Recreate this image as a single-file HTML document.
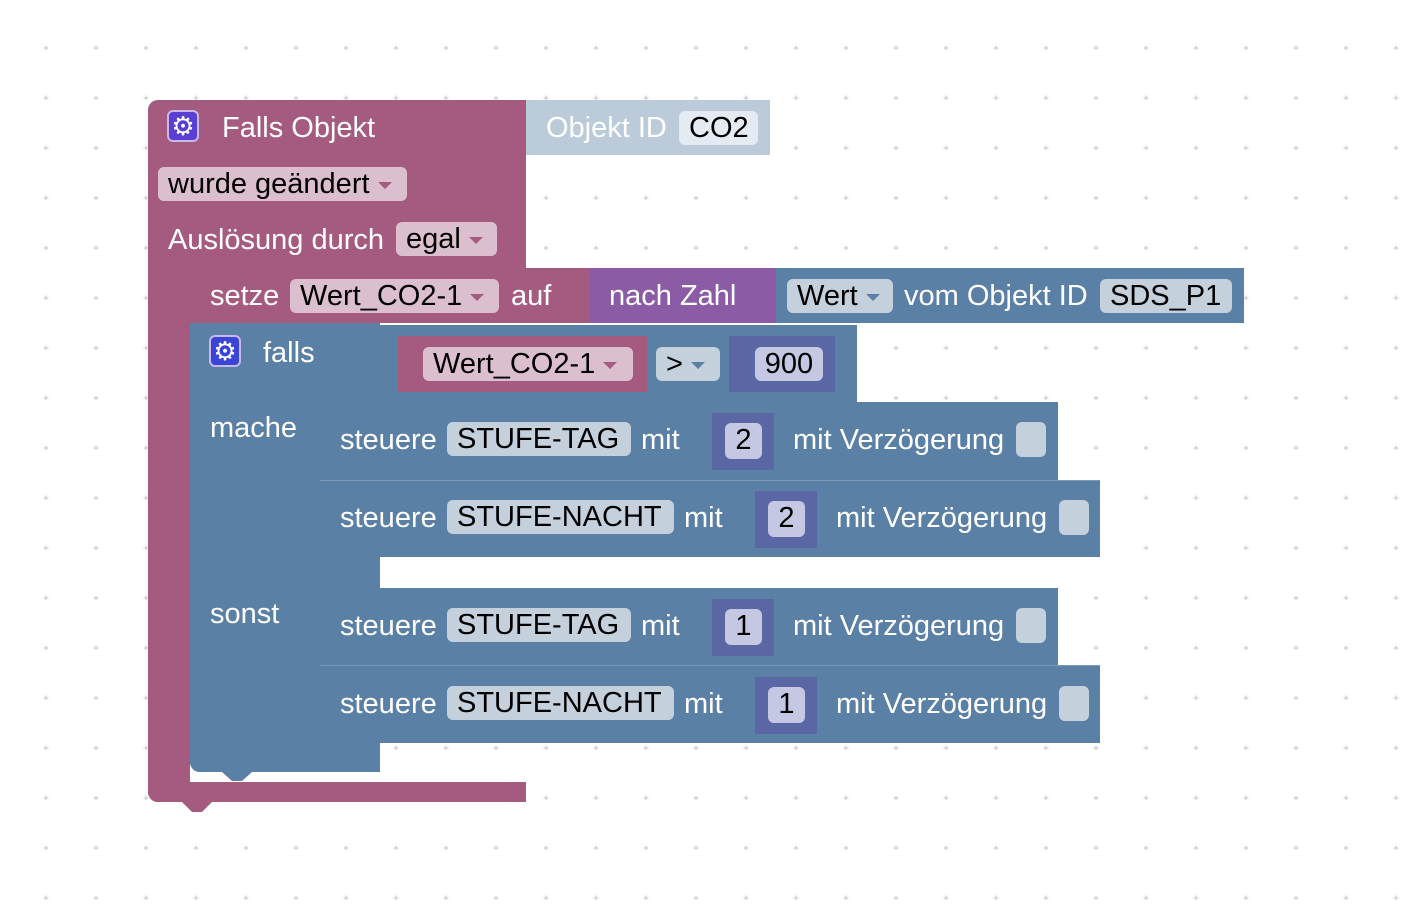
<!DOCTYPE html>
<html><head><meta charset="utf-8"><style>
html,body{margin:0;padding:0;width:1404px;height:924px;overflow:hidden;background:#fff}
body{position:relative;font-family:"Liberation Sans",Arial,sans-serif}
.b{position:absolute}
.pk{background:#a55b80}
.bl{background:#5b80a5}
.pu{background:#8b5ba5}
.nm{background:#5b67a5}
.t{position:absolute;color:#fff;font-size:29px;line-height:34px;white-space:nowrap}
.f{position:absolute;font-size:29px;line-height:34px;height:34px;color:#000;border-radius:6px;white-space:nowrap;box-sizing:border-box;padding-left:10px;overflow:hidden}
.fp{background:#dcbfcf}
.fb{background:#c5d0dd}
.fn{background:#c4c8e2;text-align:center;padding:0}
.ar{display:inline-block;width:0;height:0;border-left:7px solid transparent;border-right:7px solid transparent;border-top:7px solid;margin-left:8px;vertical-align:middle}
.gear{position:absolute;width:32px;height:32px;border-radius:6px;border:2px solid #c9b8e8;box-sizing:border-box;color:#fff;font-size:26px;line-height:28px;text-align:center}
.cb{position:absolute;width:30px;height:35px;border-radius:6px;background:#c5d0dd}
</style></head><body>
<svg class="b" style="left:0;top:0" width="1404" height="924">
<defs><pattern id="g" x="0" y="0" width="50" height="50" patternUnits="userSpaceOnUse">
<path d="M46 45.5v5M43.5 48h5" stroke="#cfcfcf" stroke-width="1.3"/></pattern></defs>
<rect width="1404" height="924" fill="url(#g)"/>
</svg>

<div class="b pk" style="left:148px;top:100px;width:378px;height:168px;border-top-left-radius:10px"></div>
<div class="b pk" style="left:148px;top:268px;width:42px;height:534px;border-bottom-left-radius:10px"></div>
<div class="b pk" style="left:148px;top:782px;width:378px;height:20px;border-bottom-left-radius:10px"></div>
<svg class="b" style="left:0;top:0" width="1404" height="924">
<path d="M182 802 L192 812 L202 812 L212 802 Z" fill="#a55b80"/>
</svg>
<div class="gear" style="left:167px;top:110px;background:#5a3fd4">⚙</div>
<div class="t" style="left:222px;top:111px">Falls Objekt</div>
<div class="f fp" style="left:158px;top:167px;width:249px">wurde geändert<span class="ar" style="color:#a55b80"></span></div>
<div class="t" style="left:168px;top:223px">Auslösung durch</div>
<div class="f fp" style="left:396px;top:222px;width:101px">egal<span class="ar" style="color:#a55b80"></span></div>

<div class="b" style="left:526px;top:100px;width:244px;height:55px;background:#bccbd9"></div>
<div class="t" style="left:546px;top:111px;color:#fff">Objekt ID</div>
<div class="f" style="left:679px;top:111px;width:79px;background:#e5ebf2">CO2</div>

<div class="b pk" style="left:190px;top:268px;width:400px;height:55px"></div>
<div class="t" style="left:210px;top:279px">setze</div>
<div class="f fp" style="left:290px;top:279px;width:209px">Wert_CO2-1<span class="ar" style="color:#a55b80"></span></div>
<div class="t" style="left:511px;top:279px">auf</div>
<div class="b pu" style="left:590px;top:268px;width:186px;height:55px"></div>
<div class="t" style="left:609px;top:279px">nach Zahl</div>
<div class="b bl" style="left:776px;top:268px;width:468px;height:55px"></div>
<div class="f fb" style="left:787px;top:279px;width:106px">Wert<span class="ar" style="color:#5b80a5"></span></div>
<div class="t" style="left:904px;top:279px">vom Objekt ID</div>
<div class="f fb" style="left:1100px;top:279px;width:132px">SDS_P1</div>

<div class="b bl" style="left:190px;top:323px;width:190px;height:79px"></div>
<div class="b bl" style="left:380px;top:325px;width:477px;height:77px"></div>
<div class="b bl" style="left:190px;top:402px;width:130px;height:370px;border-bottom-left-radius:10px"></div>
<div class="b bl" style="left:190px;top:557px;width:190px;height:31px"></div>
<div class="b bl" style="left:190px;top:743px;width:190px;height:29px;border-bottom-left-radius:10px"></div>
<svg class="b" style="left:0;top:0" width="1404" height="924">
<path d="M222 772 L232 781 L242 781 L252 772 Z" fill="#5b80a5"/>
</svg>
<div class="gear" style="left:209px;top:335px;background:#3a45d8">⚙</div>
<div class="t" style="left:263px;top:336px">falls</div>
<div class="b pk" style="left:398px;top:336px;width:249px;height:56px"></div>
<div class="f fp" style="left:423px;top:347px;width:210px">Wert_CO2-1<span class="ar" style="color:#a55b80"></span></div>
<div class="f fb" style="left:656px;top:347px;width:64px">&gt;<span class="ar" style="color:#5b80a5"></span></div>
<div class="b nm" style="left:729px;top:336px;width:106px;height:56px"></div>
<div class="f fn" style="left:755px;top:347px;width:68px">900</div>
<div class="t" style="left:210px;top:411px">mache</div>
<div class="t" style="left:210px;top:597px">sonst</div>

<div class="b bl" style="left:320px;top:402px;width:738px;height:78px"></div>
<div class="b bl" style="left:320px;top:480px;width:780px;height:77px;border-top:1px solid #7d9bb9;box-sizing:border-box"></div>
<div class="b bl" style="left:320px;top:588px;width:738px;height:77px"></div>
<div class="b bl" style="left:320px;top:665px;width:780px;height:78px;border-top:1px solid #7d9bb9;box-sizing:border-box"></div>

<div class="t" style="left:340px;top:423px">steuere</div>
<div class="f fb" style="left:447px;top:422px;width:184px">STUFE-TAG</div>
<div class="t" style="left:641px;top:423px">mit</div>
<div class="b nm" style="left:712px;top:413px;width:62px;height:57px"></div>
<div class="f fn" style="left:725px;top:423px;width:37px;height:36px">2</div>
<div class="t" style="left:793px;top:423px">mit Verzögerung</div>
<div class="cb" style="left:1016px;top:422px"></div>

<div class="t" style="left:340px;top:501px">steuere</div>
<div class="f fb" style="left:447px;top:500px;width:227px">STUFE-NACHT</div>
<div class="t" style="left:684px;top:501px">mit</div>
<div class="b nm" style="left:755px;top:491px;width:62px;height:57px"></div>
<div class="f fn" style="left:768px;top:501px;width:37px;height:36px">2</div>
<div class="t" style="left:836px;top:501px">mit Verzögerung</div>
<div class="cb" style="left:1059px;top:500px"></div>

<div class="t" style="left:340px;top:609px">steuere</div>
<div class="f fb" style="left:447px;top:608px;width:184px">STUFE-TAG</div>
<div class="t" style="left:641px;top:609px">mit</div>
<div class="b nm" style="left:712px;top:599px;width:62px;height:57px"></div>
<div class="f fn" style="left:725px;top:609px;width:37px;height:36px">1</div>
<div class="t" style="left:793px;top:609px">mit Verzögerung</div>
<div class="cb" style="left:1016px;top:608px"></div>

<div class="t" style="left:340px;top:687px">steuere</div>
<div class="f fb" style="left:447px;top:686px;width:227px">STUFE-NACHT</div>
<div class="t" style="left:684px;top:687px">mit</div>
<div class="b nm" style="left:755px;top:677px;width:62px;height:57px"></div>
<div class="f fn" style="left:768px;top:687px;width:37px;height:36px">1</div>
<div class="t" style="left:836px;top:687px">mit Verzögerung</div>
<div class="cb" style="left:1059px;top:686px"></div>
</body></html>
